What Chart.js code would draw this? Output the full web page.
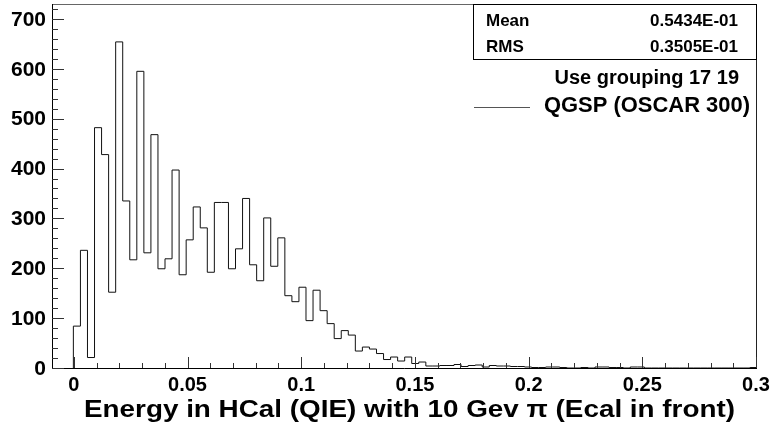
<!DOCTYPE html>
<html>
<head>
<meta charset="utf-8">
<title>HCal energy</title>
<script src="https://cdn.jsdelivr.net/npm/chart.js@4.4.1/dist/chart.umd.min.js"></script>
<style>
  body { margin: 0; background: #fff; }
  #hcalChart { display: block; }
</style>
</head>
<body>
<canvas id="hcalChart" width="774" height="430"></canvas>
<script>
// histogram content (one value per bin)
const binStart = -0.0002;
const binWidth = 0.0031;
const binCounts = [
  84, 236, 21, 482, 428, 152, 654, 335, 217, 595,
  231, 468, 199, 219, 397, 187, 257, 323, 281, 192,
  332, 332, 199, 239, 340, 207, 175, 301, 204, 261,
  145, 133, 162, 95, 156, 115, 89, 59, 75, 66,
  34, 42, 38, 29, 17, 22, 14, 22, 9, 12,
  4, 4, 5, 5, 7, 3, 5, 6, 2, 5,
  4, 4, 3, 3, 2, 1, 1, 2, 2, 1,
  0, 0, 1, 0, 2, 2, 1, 1, 0, 2,
  2, 0, 0, 0, 0, 0, 0, 0, 0, 0,
  0, 0, 0, 0, 0, 0, 1
];

const xTickValues = [0, 0.05, 0.1, 0.15, 0.2, 0.25, 0.3];
const xTickLabels = ["0", "0.05", "0.1", "0.15", "0.2", "0.25", "0.3"];
const yTickValues = [0, 100, 200, 300, 400, 500, 600, 700];
const yTickLabels = ["0", "100", "200", "300", "400", "500", "600", "700"];

const statNames = ["Mean", "RMS"];
const statValues = ["0.5434E-01", "0.3505E-01"];
const groupingNote = "Use grouping 17 19";
const seriesName = "QGSP (OSCAR 300)";
const axisTitle = "Energy in HCal (QIE) with 10 Gev \u03c0 (Ecal in front)";

// turn the bins into an outline (stepped line, level held until next edge)
function buildOutline() {
  const pts = [{ x: binStart, y: 0 }];
  for (let i = 0; i < binCounts.length; i++) {
    pts.push({ x: binStart + i * binWidth, y: binCounts[i] });
  }
  const end = binStart + binCounts.length * binWidth;
  pts.push({ x: end, y: binCounts[binCounts.length - 1] });
  pts.push({ x: end, y: 0 });
  return pts;
}

const FONT = '"Liberation Sans", Arial, Helvetica, sans-serif';

// draw text squeezed/stretched to a given width
function fitText(ctx, str, x, y, width, align) {
  const w = ctx.measureText(str).width;
  const s = width / w;
  ctx.save();
  ctx.translate(x, y);
  ctx.scale(s, 1);
  ctx.textAlign = align;
  ctx.fillText(str, 0, 0);
  ctx.restore();
}

// ROOT style frame: inward ticks, labels, stats box and legend
const rootFrame = {
  id: "rootFrame",
  afterDraw(chart) {
    const ctx = chart.ctx;
    const a = chart.chartArea;
    const xs = chart.scales.x;
    const ys = chart.scales.y;
    ctx.save();
    ctx.lineWidth = 1;

    // frame
    ctx.strokeStyle = "#666";
    ctx.beginPath();
    ctx.moveTo(a.left, a.top + 0.5);
    ctx.lineTo(a.right, a.top + 0.5);
    ctx.stroke();
    ctx.strokeStyle = "#222";
    ctx.beginPath();
    ctx.moveTo(a.right + 0.5, a.top);
    ctx.lineTo(a.right + 0.5, a.bottom);
    ctx.stroke();
    ctx.strokeStyle = "#000";
    ctx.beginPath();
    ctx.moveTo(a.left + 0.5, a.top);
    ctx.lineTo(a.left + 0.5, a.bottom + 0.5);
    ctx.lineTo(a.right + 1, a.bottom + 0.5);
    ctx.stroke();

    // x ticks, pointing up
    ctx.strokeStyle = "#333";
    for (let k = 0; k <= 30; k++) {
      const v = k / 100;
      const px = Math.round(xs.getPixelForValue(v)) + 0.5;
      const len = k % 5 === 0 ? 11 : 5;
      ctx.beginPath();
      ctx.moveTo(px, a.bottom);
      ctx.lineTo(px, a.bottom - len);
      ctx.stroke();
    }
    // y ticks, pointing right
    for (let v = 0; v <= 720; v += 20) {
      const py = Math.round(ys.getPixelForValue(v)) + 0.5;
      const len = v % 100 === 0 ? 12 : 6;
      ctx.beginPath();
      ctx.moveTo(a.left, py);
      ctx.lineTo(a.left + len, py);
      ctx.stroke();
    }

    // tick labels
    ctx.fillStyle = "#000";
    ctx.font = "bold 20px " + FONT;
    ctx.textBaseline = "alphabetic";
    ctx.textAlign = "center";
    xTickValues.forEach((v, i) => {
      ctx.fillText(xTickLabels[i], xs.getPixelForValue(v), 391);
    });
    ctx.textAlign = "right";
    ctx.textBaseline = "middle";
    ctx.font = "bold 21px " + FONT;
    yTickValues.forEach((v, i) => {
      ctx.fillText(yTickLabels[i], 46, ys.getPixelForValue(v) + 1);
    });

    // axis title
    ctx.textBaseline = "alphabetic";
    ctx.font = "bold 23px " + FONT;
    fitText(ctx, axisTitle, 84, 417, 651, "left");

    // stats box
    ctx.fillStyle = "#fff";
    ctx.fillRect(473, a.top, a.right - 473, 56);
    ctx.strokeStyle = "#000";
    ctx.strokeRect(473.5, a.top + 0.5, a.right - 473, 55);
    ctx.fillStyle = "#000";
    ctx.font = "bold 17px " + FONT;
    ctx.textBaseline = "middle";
    statNames.forEach((n, i) => {
      const cy = 21 + i * 26.5;
      ctx.textAlign = "left";
      ctx.fillText(n, 486, cy);
      ctx.textAlign = "right";
      ctx.fillText(statValues[i], 738, cy);
    });

    // legend
    ctx.font = "bold 20px " + FONT;
    ctx.textAlign = "right";
    ctx.fillText(groupingNote, 739, 78);
    ctx.font = "bold 22px " + FONT;
    fitText(ctx, seriesName, 544, 106, 206, "left");
    ctx.strokeStyle = "#555";
    ctx.beginPath();
    ctx.moveTo(474, 107.5);
    ctx.lineTo(530, 107.5);
    ctx.stroke();

    ctx.restore();
  }
};

new Chart(document.getElementById("hcalChart"), {
  type: "line",
  data: {
    datasets: [
      {
        label: seriesName,
        data: buildOutline(),
        borderColor: "#111",
        borderWidth: 1,
        stepped: "before",
        pointRadius: 0,
        fill: false,
      },
    ],
  },
  options: {
    responsive: false,
    animation: false,
    devicePixelRatio: 1,
    layout: { padding: { left: 52, right: 18, top: 4, bottom: 62 } },
    plugins: {
      legend: { display: false },
      tooltip: { enabled: false },
    },
    scales: {
      x: { type: "linear", min: -0.0096, max: 0.3, display: false },
      y: { type: "linear", min: 0, max: 730, display: false },
    },
  },
  plugins: [rootFrame],
});
</script>
</body>
</html>
